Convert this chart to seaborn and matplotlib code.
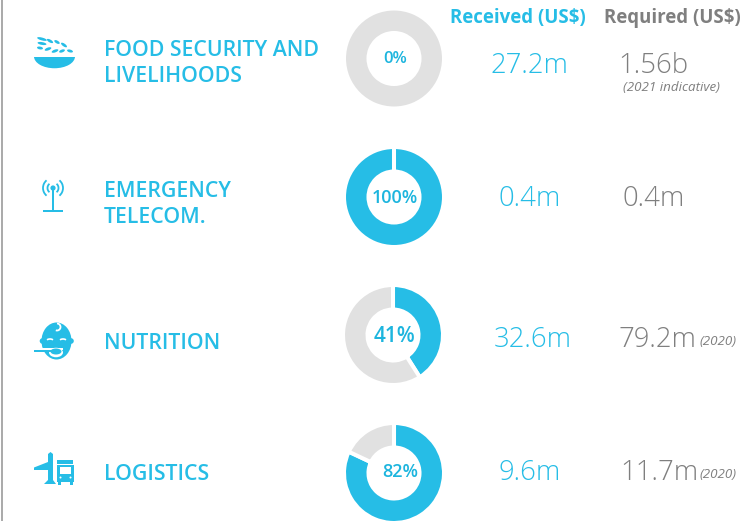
import matplotlib
matplotlib.use("Agg")
import matplotlib.pyplot as plt
from matplotlib.patches import Arc, Circle, Ellipse, Polygon, Rectangle
import seaborn as sns

# Data
sectors = ["FOOD SECURITY AND\nLIVELIHOODS", "EMERGENCY\nTELECOM.", "NUTRITION", "LOGISTICS"]
funded_pct = [0, 100, 41, 82]
received = ["27.2m", "0.4m", "32.6m", "9.6m"]
required = ["1.56b", "0.4m", "79.2m", "11.7m"]
required_notes = ["(2021 indicative)", "", "(2020)", "(2020)"]

BLUE = "#26bde6"
PCT_BLUE = "#1db5de"
GREY = "#e1e1e1"
TEXT_GREY = "#7f7f7f"

sns.set_theme(style="white")
plt.rcParams["font.family"] = ["Open Sans", "DejaVu Sans"]

# Axes in pixel units, y going down like the picture
fig = plt.figure(figsize=(7.42, 5.21), dpi=100)
ax = fig.add_axes([0, 0, 1, 1])

donut_x = [394, 394, 393, 394]
donut_y = [58.5, 197, 335, 473]
pct_x = [395, 395, 395, 400]
pct_base = [63, 203, 342, 477]
pct_size = [12, 13, 15, 13]
label_base = [[56, 82], [197, 223], [349], [480]]
value_base = [73, 206, 347, 480]
received_x = [529, 530, 533, 530]
required_x = [618.5, 623, 618, 620]
note_pos = [(623, 91), None, (699, 345), (699, 478)]

for i, pct in enumerate(funded_pct):
    # white edge gives the gaps between slices, so radius is a bit bigger than it looks
    ax.pie([pct, 100 - pct], colors=[BLUE, GREY], center=(donut_x[i], donut_y[i]), radius=50,
           startangle=-90, counterclock=True, frame=True,
           wedgeprops=dict(width=24.5, edgecolor="white", linewidth=2.9))
    ax.text(pct_x[i], pct_base[i], f"{pct}%", color=PCT_BLUE, fontsize=pct_size[i],
            fontweight="semibold", ha="center", va="baseline")

    for line, y in zip(sectors[i].split("\n"), label_base[i]):
        ax.text(104, y, line, color=BLUE, fontsize=15.3, fontweight="semibold", ha="left", va="baseline")

    ax.text(received_x[i], value_base[i], received[i], color=BLUE, fontsize=19.8, fontweight="light",
            ha="center", va="baseline")
    ax.text(required_x[i], value_base[i], required[i], color=TEXT_GREY, fontsize=19.8, fontweight="light",
            ha="left", va="baseline")
    if note_pos[i]:
        ax.text(note_pos[i][0], note_pos[i][1], required_notes[i], color=TEXT_GREY, fontsize=9.6,
                style="italic", ha="left", va="baseline")

ax.text(450, 23, "Received (US$)", color=BLUE, fontsize=13.4, fontweight="bold", ha="left", va="baseline")
ax.text(604, 23, "Required (US$)", color=TEXT_GREY, fontsize=13.4, fontweight="bold", ha="left", va="baseline")

# Left rule
ax.add_patch(Rectangle((1, 0), 2, 521, color="#ababab", lw=0))

# Bowl icon
ax.add_patch(Ellipse((54.5, 56.5), 41, 23.5, color=BLUE, lw=0))
ax.add_patch(Rectangle((30, 44), 50, 12.5, color="white", lw=0))
grains = [(42, 39, 10, 15), (50, 41, 7, 30), (57, 42, 6, 30), (64, 45, 7, 35),
          (42, 43.5, 9, 10), (40, 48, 6, 10), (48, 49, 7, -20), (55, 51, 7, -20),
          (62, 51, 6, -20), (70, 51, 6, 15)]
for gx, gy, gw, ga in grains:
    ax.add_patch(Ellipse((gx, gy), gw, 2.8, angle=ga, color=BLUE, lw=0))

# Antenna icon
ax.add_patch(Rectangle((52, 189), 2, 22, color=BLUE, lw=0))
ax.add_patch(Rectangle((43, 210), 20, 2.4, color=BLUE, lw=0))
ax.add_patch(Circle((53, 188), 2.6, color=BLUE, lw=0))
for r in [5.5, 10]:
    ax.add_patch(Arc((53, 188), 2 * r, 2 * r, theta1=-50, theta2=50, color=BLUE, lw=1.3))
    ax.add_patch(Arc((53, 188), 2 * r, 2 * r, theta1=130, theta2=230, color=BLUE, lw=1.3))

# Baby icon
ax.add_patch(Ellipse((56.5, 341), 30, 37, color=BLUE, lw=0))
ax.add_patch(Circle((42.5, 341), 2.8, color=BLUE, lw=0))
ax.add_patch(Circle((71, 341), 2.8, color=BLUE, lw=0))
ax.add_patch(Arc((57, 327), 7, 7, theta1=-90, theta2=110, color="white", lw=1.3))
ax.add_patch(Arc((50, 341), 7, 4, theta1=200, theta2=340, color="white", lw=1.2))
ax.add_patch(Arc((63, 341), 7, 4, theta1=200, theta2=340, color="white", lw=1.2))
ax.add_patch(Rectangle((38, 347.8), 25, 1.8, color="white", lw=0))
ax.add_patch(Ellipse((56, 352.5), 14, 9.5, color="white", lw=0))
ax.add_patch(Ellipse((56, 351.5), 11, 6, color=BLUE, lw=0))
ax.add_patch(Rectangle((34, 349.5), 26, 2.4, color=BLUE, lw=0))

# Plane and truck icon
plane = [(48, 454), (50.5, 452), (53, 454), (53, 480), (56, 484), (44, 484), (48, 480),
         (48, 470), (34, 470), (34, 467.5), (48, 462)]
ax.add_patch(Polygon(plane, closed=True, color=BLUE, lw=0))
ax.add_patch(Rectangle((57, 460), 16, 4, color=BLUE, lw=0))
ax.add_patch(Rectangle((57, 465), 17, 17, color=BLUE, lw=0))
ax.add_patch(Rectangle((60, 467), 11, 7, color="white", lw=0))
ax.add_patch(Circle((60.5, 477.5), 1, color="white", lw=0))
ax.add_patch(Circle((70.5, 477.5), 1, color="white", lw=0))
ax.add_patch(Rectangle((58, 482), 3, 3, color=BLUE, lw=0))
ax.add_patch(Rectangle((70, 482), 3, 3, color=BLUE, lw=0))

ax.set_xlim(0, 742)
ax.set_ylim(521, 0)
ax.set_aspect("equal")
ax.axis("off")

fig.savefig("out.png", dpi=100, facecolor="white")
